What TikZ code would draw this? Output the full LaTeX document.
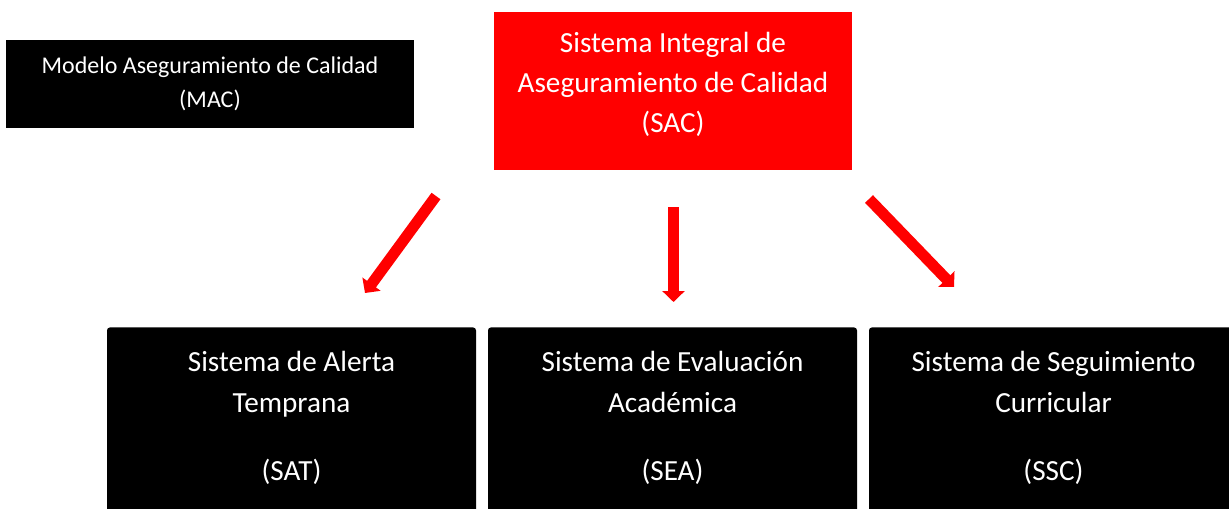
\documentclass[tikz,border=0pt]{standalone}
\usepackage{fontspec}
\setmainfont{Carlito}
\usetikzlibrary{positioning, arrows.meta}

\begin{document}
\begin{tikzpicture}[x=0.5pt, y=-0.5pt, node distance=190.5pt,
   mac node/.style={fill=black, text=white, align=center, inner sep=0pt, minimum width=204pt, minimum height=44pt, font=\fontsize{12}{17}\selectfont},
   main node/.style={fill=red, text=white, align=center, anchor=north, inner xsep=0pt, inner ysep=9.8pt, text depth=9.2pt, minimum width=179pt, font=\fontsize{14.6}{20}\selectfont},
   sub node/.style={fill=black, text=white, align=center, anchor=north, rounded corners=1.5pt, inner xsep=0pt, inner ysep=12pt, text depth=20pt, minimum width=184.5pt, font=\fontsize{14.6}{20.5}\selectfont},
   red arrow/.style={draw=red, line width=5.5pt, -{Triangle[length=5.5pt, width=11pt]}}]
   \clip (0,0) rectangle (1229,508);
   \node[mac node]  (mac) at (210,84) {Modelo Aseguramiento de Calidad\\(MAC)};
   \node[main node] (sac) at (673,12) {Sistema Integral de\\Aseguramiento de Calidad\\(SAC)};

   \node[sub node]  (sat) at (291.5,327) {Sistema de Alerta\\Temprana\\[13.5pt](SAT)};
   \node[sub node]  (sea) [right of=sat] {Sistema de Evaluación\\Académica\\[13.5pt](SEA)};
   \node[sub node]  (ssc) [right of=sea] {Sistema de Seguimiento\\Curricular\\[13.5pt](SSC)};

   % arrows stand free between the boxes
   \coordinate (l1) at (436,196);
   \coordinate (l2) at (365,293);
   \coordinate (m1) at (673.5,207);
   \coordinate (m2) at (673.5,302);
   \coordinate (r1) at (869,199);
   \coordinate (r2) at (954,287);

   \draw[red arrow] (l1) -- (l2);
   \draw[red arrow] (m1) -- (m2);
   \draw[red arrow] (r1) -- (r2);
\end{tikzpicture}
\end{document}
